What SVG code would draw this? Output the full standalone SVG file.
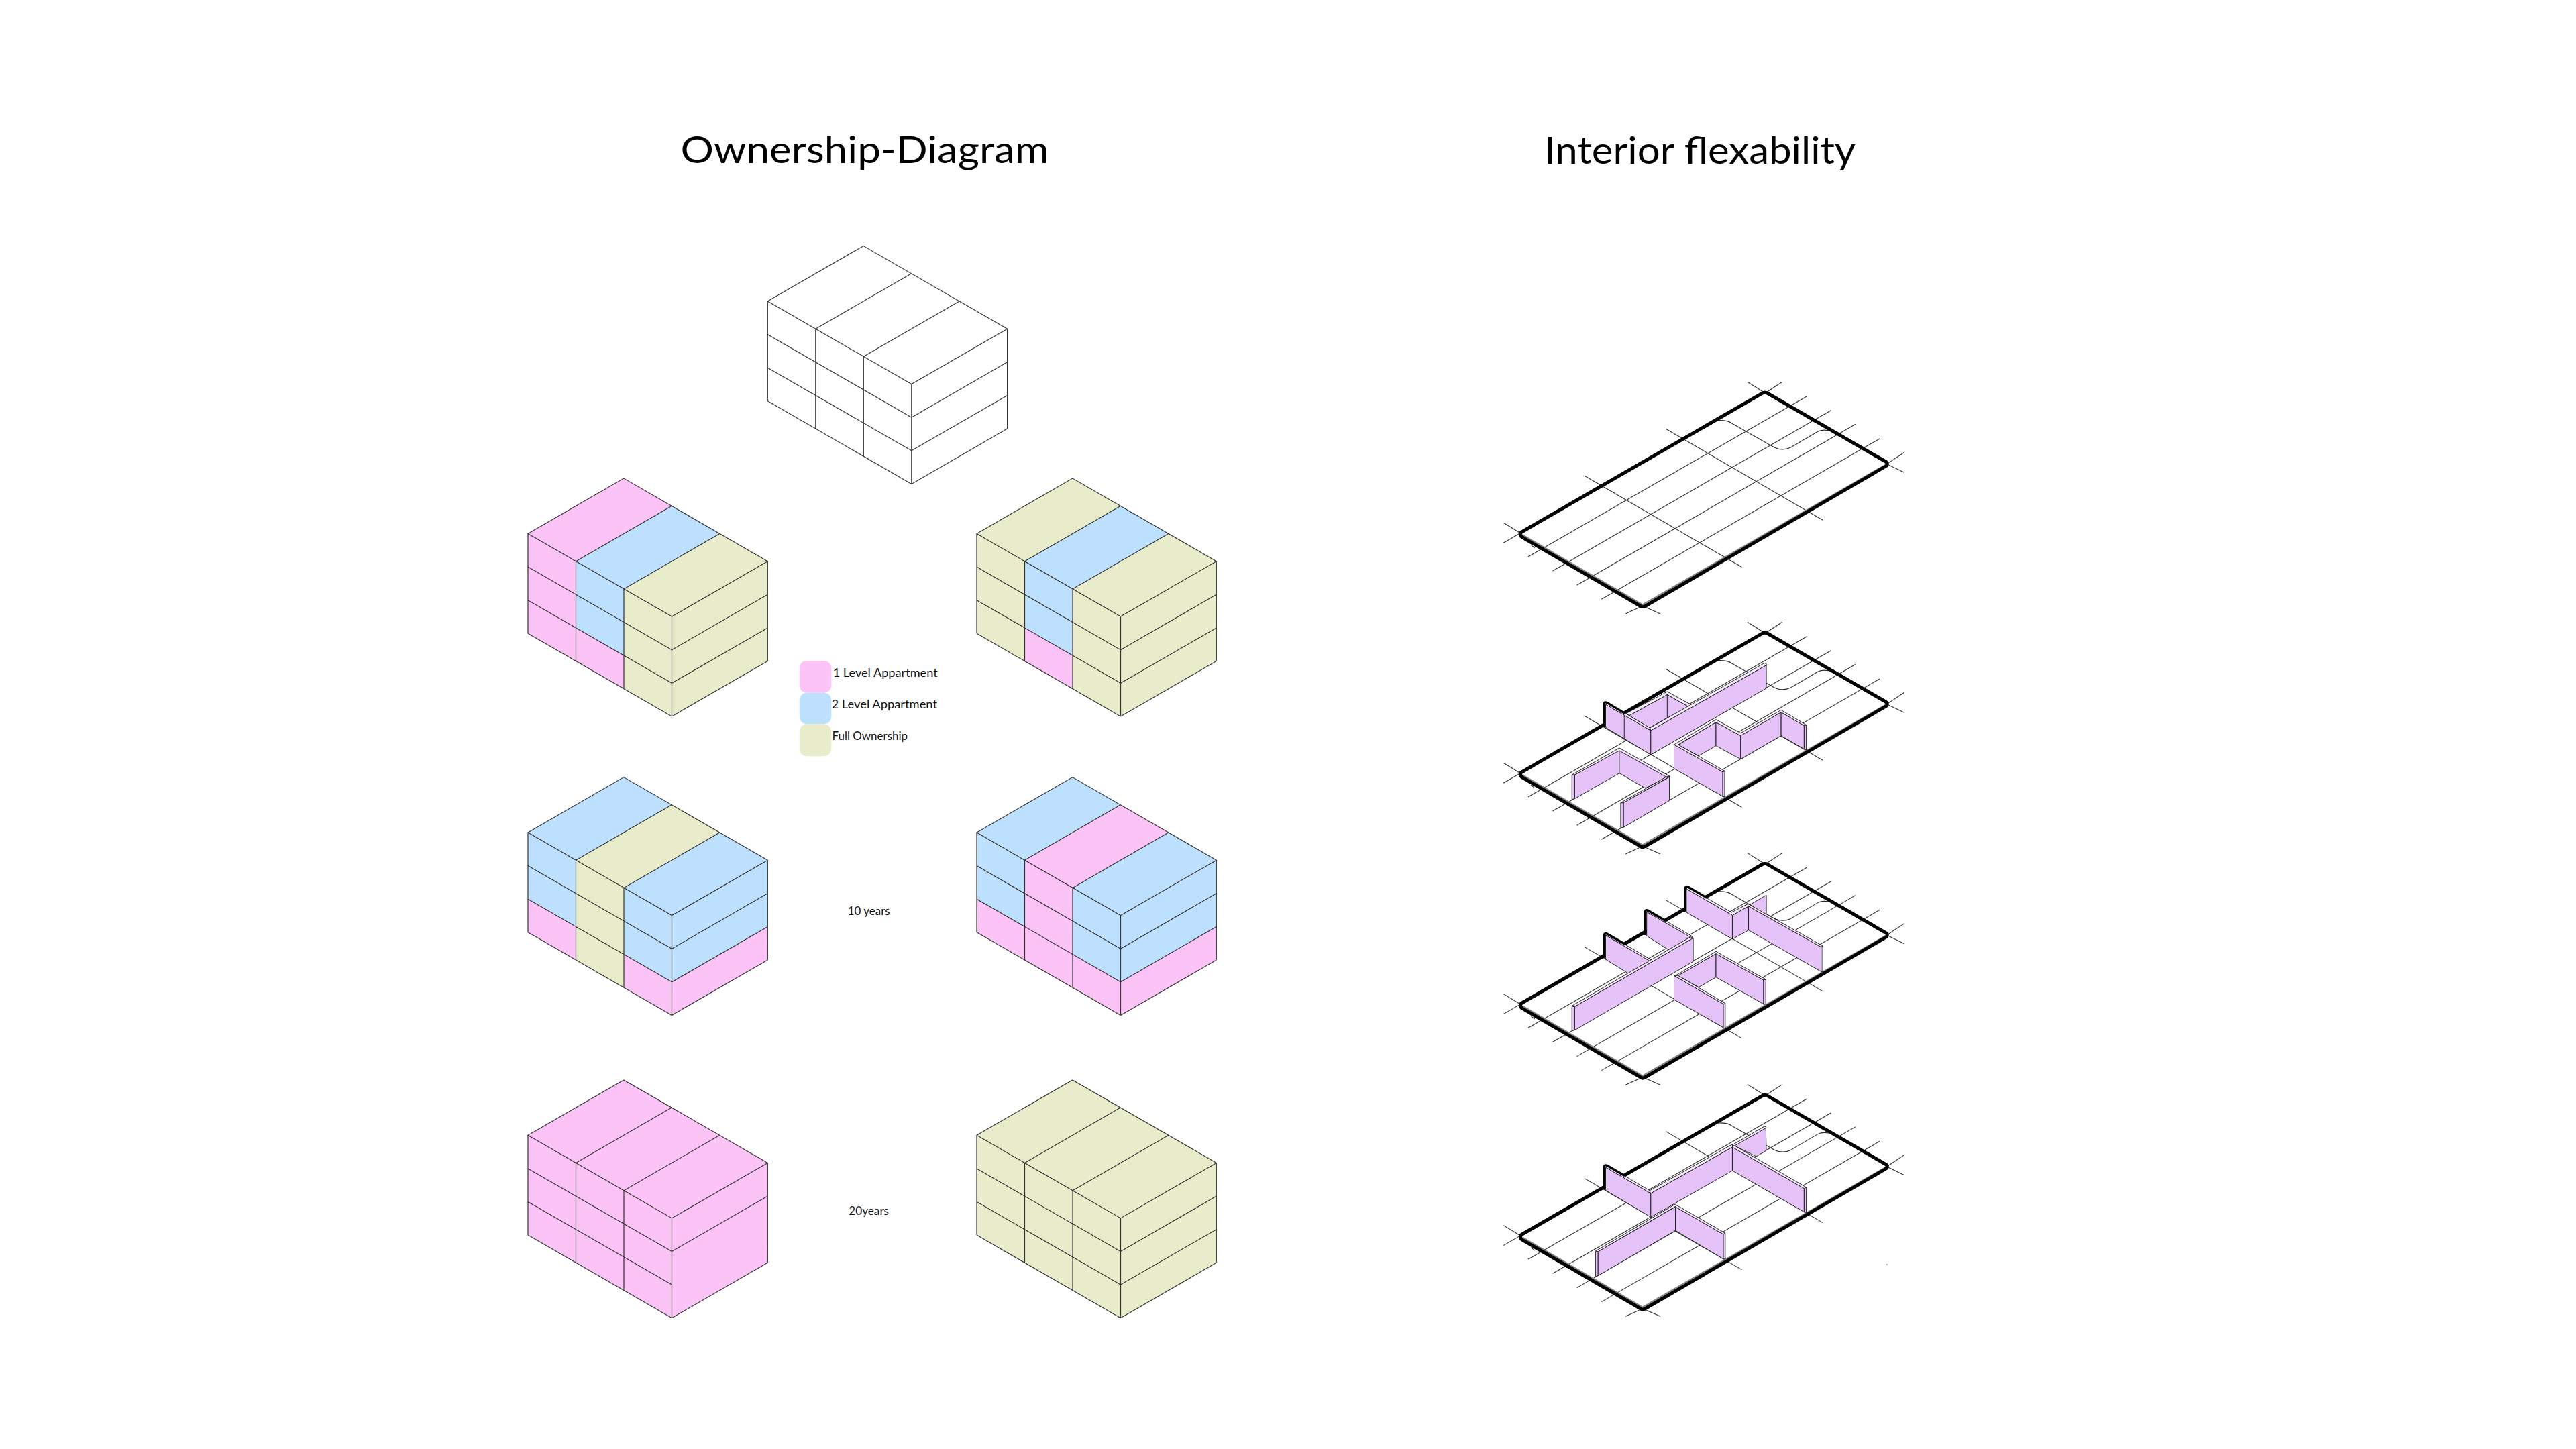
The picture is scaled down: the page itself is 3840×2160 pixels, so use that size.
<svg xmlns="http://www.w3.org/2000/svg" width="3840" height="2160" viewBox="0 0 3840 2160">
<style>
path,polygon{vector-effect:non-scaling-stroke}
.pink{fill:#fcc3f6}.blue{fill:#bde0fe}.olive{fill:#e9eccb}
.bl{fill:none;stroke:#333;stroke-width:1.2}
.title{font-family:"Lato","Liberation Sans",sans-serif;font-size:57px;fill:#000}
.small{font-family:"Lato","Liberation Sans",sans-serif;font-size:17px;fill:#111}
.grid{fill:none;stroke:#2a2a2a;stroke-width:1.1}
.edge{fill:#fff;stroke:#000;stroke-width:4.8;stroke-linejoin:round}
.inner{fill:none;stroke:#808080;stroke-width:2.2}
.f{fill:#e5c3f9;stroke:#222;stroke-width:1}
.c{fill:#f5e9fc;stroke:#222;stroke-width:1}
.t{fill:none;stroke:#000;stroke-width:3.4;stroke-linejoin:round}
.l{fill:none;stroke:#222;stroke-width:1}
</style>
<defs>
<polygon id="t0" points="0,0 142.8,-82.4 214.3,-41.2 71.5,41.2"/>
<polygon id="t1" points="71.5,41.2 214.3,-41.2 285.8,0 143,82.4"/>
<polygon id="t2" points="143,82.4 285.8,0 357.3,41.2 214.5,123.6"/>
<polygon id="c0" points="0,0 71.5,41.2 71.5,190 0,148.8"/>
<polygon id="c1" points="71.5,41.2 143,82.4 143,231.2 71.5,190"/>
<polygon id="c2" points="143,82.4 214.5,123.6 214.5,272.4 143,231.2"/>
<polygon id="c0b" points="0,99.2 71.5,140.4 71.5,190 0,148.8"/>
<polygon id="c1b" points="71.5,140.4 143,181.6 143,231.2 71.5,190"/>
<polygon id="c2b" points="143,181.6 214.5,222.8 214.5,272.4 143,231.2"/>
<polygon id="r" points="214.5,123.6 357.3,41.2 357.3,190 214.5,272.4"/>
<polygon id="rb" points="214.5,222.8 357.3,140.4 357.3,190 214.5,272.4"/>
<path id="lines" class="bl" d="M0,0L142.8,-82.4L357.3,41.2L214.5,123.6ZM71.5,41.2L214.3,-41.2M143,82.4L285.8,0M0,0V148.8M71.5,41.2V190M143,82.4V231.2M214.5,123.6V272.4M357.3,41.2V190M0,49.6L214.5,173.2M0,99.2L214.5,222.8M0,148.8L214.5,272.4M214.5,173.2L357.3,90.8M214.5,272.4L357.3,190"/>
<path id="l3" class="bl" d="M214.5,222.8L357.3,140.4"/>
<g id="plate">
<path class="edge" d="M117,700L998,78Q1008,72 1018,80L1450,386Q1455,390 1452,402L570,1030Q560,1038 552,1030L120,722Q112,715 115,705Q115,702 117,700Z"/>
<path class="grid" d="M142,810L1160,92M232,873L1248,155M320,937L1338,217M410,1000L1426,282M348,448L922,856M645,238L1218,646M52,748L115,703M1008,78L1070,28M498,1065L560,1030M1452,395L1516,343M52,658L115,705M943,28L1008,78M560,1030L625,1065M1452,395L1516,433M835,200Q870,198 885,212L1040,320Q1070,338 1100,322L1200,250Q1215,240 1240,245M152,757L166,770"/>
<path class="inner" d="M122,712L560,1024L1448,398"/>
<path fill="none" stroke="#000" stroke-width="4.8" stroke-linejoin="round" d="M117,700L998,78Q1008,72 1018,80L1450,386Q1455,390 1452,402L570,1030Q560,1038 552,1030L120,722Q112,715 115,705Q115,702 117,700Z"/>
</g>
</defs>
<rect width="3840" height="2160" fill="#fff"/>
<text class="title" x="1014.5" y="243" textLength="549" lengthAdjust="spacingAndGlyphs">Ownership-Diagram</text>
<text class="title" x="2302" y="244" textLength="464" lengthAdjust="spacingAndGlyphs">Interior flexability</text>

<g id="block-empty" transform="translate(1144.3,449)"><use href="#t0" fill="#fff"/><use href="#lines"/><use href="#l3"/></g>

<g id="block-1l" transform="translate(787,795.5)">
<use href="#t0" class="pink"/><use href="#t1" class="blue"/><use href="#t2" class="olive"/>
<use href="#c0" class="pink"/><use href="#c1" class="blue"/><use href="#c1b" class="pink"/><use href="#c2" class="olive"/><use href="#r" class="olive"/>
<use href="#lines"/><use href="#l3"/></g>

<g id="block-1r" transform="translate(1456,795.5)">
<use href="#t0" class="olive"/><use href="#t1" class="blue"/><use href="#t2" class="olive"/>
<use href="#c0" class="olive"/><use href="#c1" class="blue"/><use href="#c1b" class="pink"/><use href="#c2" class="olive"/><use href="#r" class="olive"/>
<use href="#lines"/><use href="#l3"/></g>

<g id="block-2l" transform="translate(787,1241)">
<use href="#t0" class="blue"/><use href="#t1" class="olive"/><use href="#t2" class="blue"/>
<use href="#c0" class="blue"/><use href="#c0b" class="pink"/><use href="#c1" class="olive"/><use href="#c2" class="blue"/><use href="#c2b" class="pink"/><use href="#r" class="blue"/><use href="#rb" class="pink"/>
<use href="#lines"/><use href="#l3"/></g>

<g id="block-2r" transform="translate(1456,1241)">
<use href="#t0" class="blue"/><use href="#t1" class="pink"/><use href="#t2" class="blue"/>
<use href="#c0" class="blue"/><use href="#c0b" class="pink"/><use href="#c1" class="pink"/><use href="#c2" class="blue"/><use href="#c2b" class="pink"/><use href="#r" class="blue"/><use href="#rb" class="pink"/>
<use href="#lines"/><use href="#l3"/></g>

<g id="block-3l" transform="translate(787,1692.3)">
<use href="#t0" class="pink"/><use href="#t1" class="pink"/><use href="#t2" class="pink"/>
<use href="#c0" class="pink"/><use href="#c1" class="pink"/><use href="#c2" class="pink"/><use href="#r" class="pink"/>
<use href="#lines"/></g>

<g id="block-3r" transform="translate(1456,1692.3)">
<use href="#t0" class="olive"/><use href="#t1" class="olive"/><use href="#t2" class="olive"/>
<use href="#c0" class="olive"/><use href="#c1" class="olive"/><use href="#c2" class="olive"/><use href="#r" class="olive"/>
<use href="#lines"/><use href="#l3"/></g>

<g id="legend">
<rect class="pink" x="1191.7" y="985" width="47.6" height="47.7" rx="11"/>
<rect class="blue" x="1191.7" y="1032.7" width="47.6" height="46.6" rx="11"/>
<rect class="olive" x="1191.7" y="1079.3" width="47.6" height="48" rx="11"/>
<text class="small" x="1241.7" y="1009.3" textLength="156" lengthAdjust="spacingAndGlyphs">1 Level Appartment</text>
<text class="small" x="1239.5" y="1056.3" textLength="157.5" lengthAdjust="spacingAndGlyphs">2 Level Appartment</text>
<text class="small" x="1240.5" y="1102.7" textLength="112.5" lengthAdjust="spacingAndGlyphs">Full Ownership</text>
</g>
<text class="small" x="1263.7" y="1364" textLength="63" lengthAdjust="spacingAndGlyphs">10 years</text>
<text class="small" x="1265.3" y="1811" textLength="59.7" lengthAdjust="spacingAndGlyphs">20years</text>

<g id="plate-1" transform="translate(2220,560) scale(.40816,.33333)"><use href="#plate"/></g>

<g id="plate-2">
<g transform="translate(2220,918) scale(.40816,.33333)"><use href="#plate"/></g>
<g transform="translate(2220,920) scale(.40816,.33333)">
<polygon class="c" points="498,432 650,333 740,393 727,400 650,347 512,440"/>
<polygon class="f" points="512,440 650,347 727,400 587,497"/>
<path class="l" d="M650,345V450L592,490"/>
<polygon class="f" points="425,390 590,507 590,615 425,493"/>
<polygon class="c" points="425,390 430,382 587,495 590,507"/>
<polygon class="c" points="587,495 1005,205 1013,210 1012,215 590,507"/>
<polygon class="f" points="590,507 1012,215 1012,318 590,615"/>
<path class="l" d="M493,440V550"/>
<path class="t" d="M420,490V385Q422,378 430,382L495,430"/>
<polygon class="f" points="312,705 475,592 475,698 312,812"/>
<polygon class="f" points="475,592 650,713 570,765 475,698"/>
<polygon class="f" points="302,705 312,703 312,812 302,815"/>
<polygon class="c" points="302,705 475,585 660,712 650,717 475,597 312,705"/>
<polygon class="f" points="490,830 658,715 658,820 490,940"/>
<polygon class="f" points="480,830 490,830 490,940 480,942"/>
<polygon class="c" points="480,830 650,712 660,712 490,830"/>
<polygon class="f" points="690,572 828,470 828,575 765,620"/>
<polygon class="f" points="828,470 918,530 918,635 828,575"/>
<polygon class="f" points="918,530 1066,425 1066,530 918,635"/>
<polygon class="f" points="1066,425 1150,485 1150,590 1066,530"/>
<polygon class="f" points="1150,485 1158,482 1158,595 1150,590"/>
<polygon class="f" points="675,570 853,692 853,802 675,677"/>
<polygon class="f" points="853,692 860,688 860,802 853,802"/>
<polygon class="c" points="675,570 828,458 918,518 1066,415 1158,482 1150,485 1066,425 918,530 828,470 690,570 860,688 853,692"/>
</g></g>

<g id="plate-3">
<g transform="translate(2220,1262.3) scale(.40816,.33333)"><use href="#plate"/></g>
<g transform="translate(2220,1270) scale(.40816,.33333)">
<polygon class="f" points="425,372 590,490 510,545 425,480"/>
<polygon class="c" points="425,372 430,366 590,482 585,487"/>
<path class="t" d="M420,473V370Q422,362 430,366L495,412"/>
<polygon class="f" points="575,268 742,385 655,438 575,375"/>
<polygon class="c" points="575,268 580,262 742,378 738,383"/>
<path class="t" d="M570,372V265Q572,257 580,262L645,308"/>
<polygon class="c" points="302,688 735,380 745,385 312,692"/>
<polygon class="f" points="312,692 745,385 745,490 312,797"/>
<polygon class="f" points="302,690 312,692 312,797 302,800"/>
<polygon class="f" points="953,235 1012,193 1012,280 1005,282"/>
<polygon class="f" points="720,165 888,283 888,390 720,270"/>
<polygon class="f" points="888,283 947,243 947,350 888,390"/>
<polygon class="f" points="947,243 1212,425 1212,535 947,350"/>
<polygon class="f" points="1212,425 1218,422 1218,535 1212,537"/>
<polygon class="c" points="720,165 726,158 885,270 945,232 1218,420 1212,425 947,243 888,283"/>
<path class="t" d="M716,268V160Q718,152 726,156L795,205"/>
<polygon class="f" points="690,553 828,455 828,560 765,605"/>
<polygon class="f" points="828,455 1002,573 1002,680 828,560"/>
<polygon class="f" points="1002,573 1010,570 1010,680 1002,682"/>
<polygon class="c" points="680,553 828,445 1010,570 1002,573 828,455 690,553"/>
<polygon class="f" points="675,553 855,680 855,785 675,660"/>
<polygon class="f" points="855,680 862,677 862,790 855,787"/>
<polygon class="c" points="675,553 690,553 862,677 855,680"/>
</g></g>

<g id="plate-4">
<g transform="translate(2220,1607.3) scale(.40816,.33333)"><use href="#plate"/></g>
<g transform="translate(2220,1610) scale(.40816,.33333)">
<polygon class="f" points="895,293 1010,210 1012,315 975,342"/>
<polygon class="c" points="888,290 1005,207 1012,210 1010,215 895,295"/>
<polygon class="f" points="425,390 590,507 590,613 425,493"/>
<polygon class="c" points="425,390 430,382 590,497 590,507"/>
<path class="t" d="M420,490V385Q422,378 430,382L495,428"/>
<polygon class="c" points="585,495 888,287 888,300 590,507"/>
<polygon class="f" points="590,507 888,300 888,405 590,613"/>
<polygon class="f" points="888,300 1150,485 1150,590 888,405"/>
<polygon class="c" points="888,300 895,293 1158,480 1150,485"/>
<polygon class="f" points="1150,485 1158,480 1158,595 1150,590"/>
<polygon class="c" points="388,765 680,555 685,562 397,768"/>
<polygon class="f" points="397,768 680,567 680,673 397,875"/>
<polygon class="f" points="388,768 397,768 397,875 388,878"/>
<polygon class="f" points="680,567 855,690 855,800 680,673"/>
<polygon class="c" points="680,567 685,560 862,685 855,690"/>
<polygon class="f" points="855,690 862,685 862,800 855,800"/>
</g></g>
<rect x="2812" y="1884.5" width="1.5" height="1.5" fill="#888"/>
</svg>
